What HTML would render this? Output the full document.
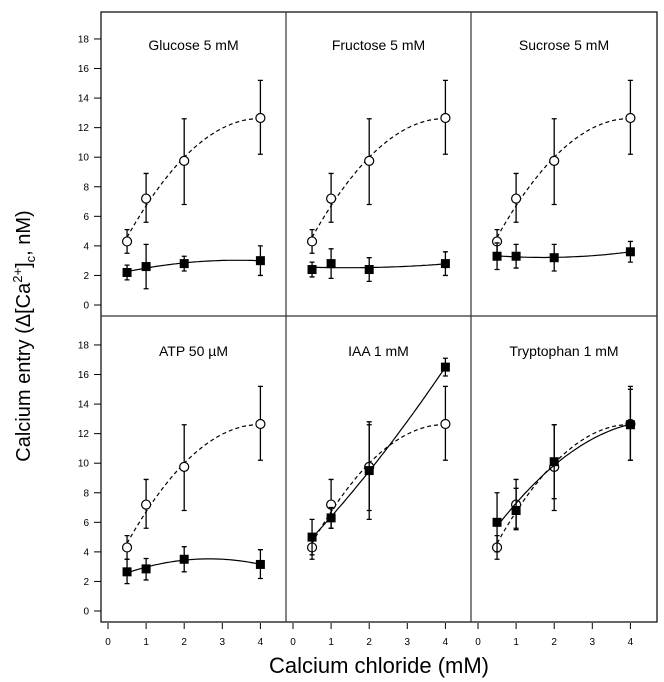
<!DOCTYPE html>
<html><head><meta charset="utf-8"><style>
html,body{margin:0;padding:0;background:#fff;}
svg{display:block;font-family:"Liberation Sans",sans-serif;}
</style></head><body>
<svg id="chart" width="664" height="682"></svg>
<script>
const xVals=[0.5,1,2,4];
const panelTitles=["Glucose 5 mM","Fructose 5 mM","Sucrose 5 mM","ATP 50 \u00b5M","IAA 1 mM","Tryptophan 1 mM"];
const ctrlMean=[4.3,7.2,9.75,12.65];
const ctrlLo=[3.5,5.6,6.8,10.2];
const ctrlHi=[5.1,8.9,12.6,15.2];
const treatMean=[[2.2,2.6,2.8,3.0],[2.4,2.8,2.4,2.8],[3.3,3.3,3.2,3.6],[2.65,2.85,3.5,3.15],[5.0,6.3,9.5,16.5],[6.0,6.8,10.1,12.6]];
const treatLo=[[1.7,1.1,2.3,2.0],[1.9,1.8,1.6,2.0],[2.4,2.5,2.3,2.9],[1.85,2.1,2.65,2.2],[3.8,5.6,6.2,15.9],[4.0,5.5,7.6,10.2]];
const treatHi=[[2.7,4.1,3.3,4.0],[2.9,3.8,3.2,3.6],[4.2,4.1,4.1,4.3],[3.5,3.55,4.35,4.15],[6.2,7.0,12.8,17.1],[8.0,8.3,12.6,15.0]];
const yTicks=[0,2,4,6,8,10,12,14,16,18];
const xTicks=[0,1,2,3,4];

const NS="http://www.w3.org/2000/svg";
const svg=document.getElementById('chart');
function mk(t,a,p){const e=document.createElementNS(NS,t);for(const k in a)e.setAttribute(k,a[k]);(p||svg).appendChild(e);return e;}
const panelLeft=[101,286,471], panelRight=[286,471,657];
const xZero=[108,293,478], xUnit=38.1;
const rowZero=[305,611], yUnit=14.78;
function sx(c,v){return xZero[c]+v*xUnit;}
function sy(r,v){return rowZero[r]-v*yUnit;}
function quadFit(xs,ys){
  let S=[0,0,0,0,0],T=[0,0,0];
  for(let i=0;i<xs.length;i++){let p=1;for(let k=0;k<5;k++){S[k]+=p;if(k<3)T[k]+=p*ys[i];p*=xs[i];}}
  const A=[[S[0],S[1],S[2],T[0]],[S[1],S[2],S[3],T[1]],[S[2],S[3],S[4],T[2]]];
  for(let i=0;i<3;i++){for(let j=i+1;j<3;j++){const f=A[j][i]/A[i][i];for(let k=i;k<4;k++)A[j][k]-=f*A[i][k];}}
  const c=[0,0,0];for(let i=2;i>=0;i--){let s=A[i][3];for(let k=i+1;k<3;k++)s-=A[i][k]*c[k];c[i]=s/A[i][i];}
  return x=>c[0]+c[1]*x+c[2]*x*x;
}
const frame=mk('rect',{x:101,y:12,width:556,height:610,fill:'none',stroke:'#000','stroke-width':1.2});


[286,471].forEach(x=>{const l=mk('line',{x1:x,y1:12,x2:x,y2:622,stroke:'#333','stroke-width':1.2});

});
const hl=mk('line',{x1:101,y1:316,x2:657,y2:316,stroke:'#333','stroke-width':1.2});


for(let r=0;r<2;r++){yTicks.forEach(t=>{
  const y=sy(r,t);
  const tl=mk('line',{x1:94,y1:y,x2:101,y2:y,stroke:'#000','stroke-width':1});
  
  
  const tx=mk('text',{x:89,y:y+3.5,'font-size':10,'text-anchor':'end'});tx.textContent=t;
  
  
});}
for(let c=0;c<3;c++){xTicks.forEach(t=>{
  const x=sx(c,t);
  const tl=mk('line',{x1:x,y1:623,x2:x,y2:629,stroke:'#000','stroke-width':1});
  
  
  const tx=mk('text',{x:x,y:645,'font-size':10,'text-anchor':'middle'});tx.textContent=t;
  
  
});}
const xt=mk('text',{x:379,y:673,'font-size':22,'text-anchor':'middle'});xt.textContent='Calcium chloride (mM)';


const yt=mk('text',{x:0,y:0,'font-size':20,'text-anchor':'middle',transform:'translate(30,336) rotate(-90)'});
yt.innerHTML='Calcium entry (\u0394[Ca<tspan font-size="13" dy="-8">2+</tspan><tspan dy="8">]</tspan><tspan font-size="13" dy="5">c</tspan><tspan dy="-5">, nM)</tspan>';



function drawSeries(g,c,r,mean,lo,hi,dashed,filled){
  const f=quadFit(xVals,mean);let d='';
  for(let i=0;i<=60;i++){const v=0.5+3.5*i/60;d+=(i?'L':'M')+sx(c,v).toFixed(1)+','+sy(r,f(v)).toFixed(1);}
  const p=mk('path',{d:d,fill:'none',stroke:'#000','stroke-width':1.2,'stroke-dasharray':dashed?'4,3':'none'},g);
  
  
  xVals.forEach((xv,i)=>{
    const x=sx(c,xv);
    const e=mk('path',{d:`M${x},${sy(r,lo[i])}V${sy(r,hi[i])}M${x-2.5},${sy(r,lo[i])}h5M${x-2.5},${sy(r,hi[i])}h5`,stroke:'#000','stroke-width':1.3,fill:'none'},g);
    
    
    let m;
    if(filled){m=mk('rect',{x:x-4.5,y:sy(r,mean[i])-4.5,width:9,height:9,fill:'#000'},g);
      }
    else{m=mk('circle',{cx:x,cy:sy(r,mean[i]),r:4.5,fill:'#fff',stroke:'#000','stroke-width':1.2},g);
      }
    
  });
}
panelTitles.forEach((title,k)=>{
  const c=k%3,r=Math.floor(k/3);
  const g=mk('g',{});
  
  
  const t=mk('text',{x:(panelLeft[c]+panelRight[c])/2,y:r?356:50,'font-size':14,'text-anchor':'middle'},g);
  t.textContent=title;
  
  
  drawSeries(g,c,r,ctrlMean,ctrlLo,ctrlHi,true,false);
  drawSeries(g,c,r,treatMean[k],treatLo[k],treatHi[k],false,true);
});
</script>
</body></html>
